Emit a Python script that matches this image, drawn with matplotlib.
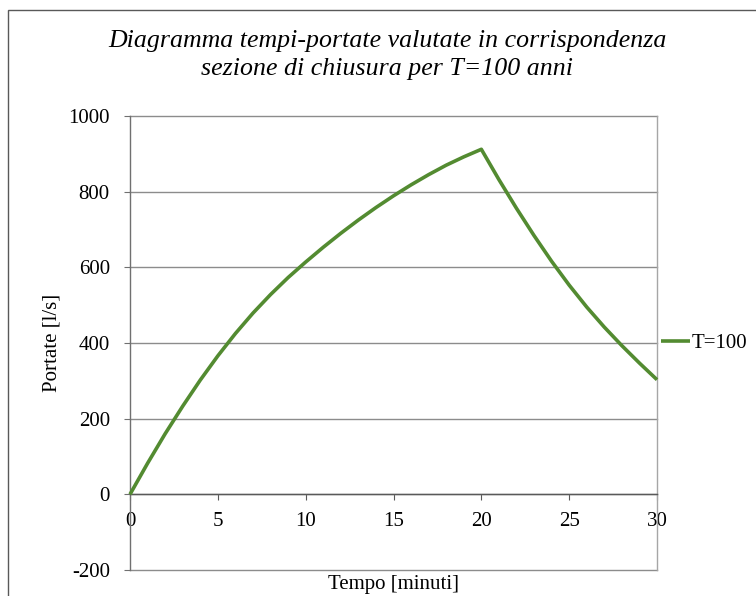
import matplotlib
matplotlib.use("Agg")
import matplotlib.pyplot as plt
from matplotlib.patches import Rectangle

# Data
tempo = [0, 1, 2, 3, 4, 5, 6, 7, 8, 9, 10, 11, 12, 13, 14, 15, 16, 17, 18, 19, 20,
         21, 22, 23, 24, 25, 26, 27, 28, 29, 30]
portate = [0, 82, 160, 233, 302, 366, 425, 479, 528, 573, 614, 653, 690, 725, 758, 789,
           818, 845, 870, 892, 912,
           832, 756, 684, 616, 553, 495, 442, 393, 347, 303]
series_name = "T=100"
title_lines = ["Diagramma tempi-portate valutate in corrispondenza",
               "sezione di chiusura per T=100 anni"]
x_label = "Tempo [minuti]"
y_label = "Portate [l/s]"
x_ticks = [0, 5, 10, 15, 20, 25, 30]
y_ticks = [-200, 0, 200, 400, 600, 800, 1000]

serif = ["Liberation Serif", "DejaVu Serif"]
W, H = 756, 596
fig = plt.figure(figsize=(W / 100, H / 100), dpi=100)
fig.patch.set_facecolor("white")

ax = fig.add_axes([130 / W, 1 - 570 / H, 527 / W, 454 / H])

# spines first (set_position resets tick formatting)
ax.spines["top"].set_visible(False)
ax.spines["right"].set_color("#a6a6a6")
ax.spines["right"].set_linewidth(1.0)
ax.spines["left"].set_color("#707070")
ax.spines["left"].set_linewidth(1.0)
ax.spines["bottom"].set_position(("data", 0))
ax.spines["bottom"].set_color("#595959")
ax.spines["bottom"].set_linewidth(1.0)
ax.spines["bottom"].set_zorder(4)

ax.plot(tempo, portate, color="#538b31", lw=2.6, solid_joinstyle="round",
        solid_capstyle="butt", zorder=5, label=series_name, clip_on=False)

ax.set_xlim(0, 30)
ax.set_ylim(-200, 1000)
ax.set_xticks(x_ticks)
ax.set_yticks(y_ticks)
ax.set_xticklabels([str(v) for v in x_ticks])
ax.set_yticklabels([str(v) for v in y_ticks])
for lab in ax.get_xticklabels() + ax.get_yticklabels():
    lab.set_fontfamily(serif)
    lab.set_fontsize(15)

ax.yaxis.grid(True, color="#8c8c8c", lw=1.0)
for gl in ax.get_ygridlines():
    gl.set_clip_on(False)
ax.set_axisbelow(True)

ax.tick_params(axis="x", direction="out", length=4, width=0.8, color="#595959", pad=9)
ax.tick_params(axis="y", direction="out", length=4.5, width=0.8, color="#707070", pad=10)

for i, line in enumerate(title_lines):
    fig.text(387 / W, 1 - (41 + 28 * i) / H, line, ha="center", va="center",
             fontsize=18.6, style="italic", family=serif)

fig.text(393 / W, 1 - 584 / H, x_label, ha="center", va="center",
         fontsize=15, family=serif)
fig.text(52 / W, 1 - 343 / H, y_label, ha="center", va="center", rotation=90,
         fontsize=15, family=serif)

leg = fig.legend(loc="center left", bbox_to_anchor=(661 / W, 1 - 343 / H),
                 frameon=False, prop={"family": serif, "size": 15},
                 handlelength=1.4, handletextpad=0.05, borderpad=0, borderaxespad=0)

fig.patches.append(Rectangle((8 / W, -0.1), 1.2, 1.1 - 10 / H, transform=fig.transFigure,
                             fill=False, ec="#595959", lw=1.0))

fig.savefig("out.png", dpi=100, facecolor="white")
